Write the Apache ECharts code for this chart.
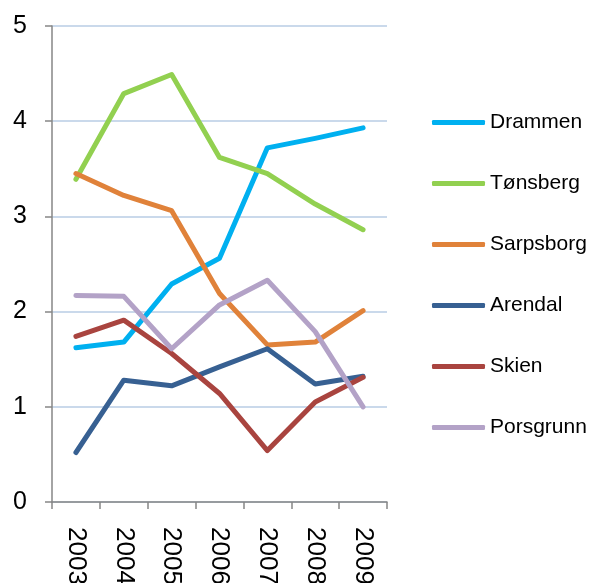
<!DOCTYPE html>
<html>
<head>
<meta charset="utf-8">
<script src="https://cdn.jsdelivr.net/npm/echarts@6/dist/echarts.min.js"></script>
<style>
  html, body { margin: 0; padding: 0; background: #fff; }
  #chart { width: 590px; height: 583px; }
</style>
</head>
<body>
<div id="chart"></div>
<script>
// data
var years = ['2003', '2004', '2005', '2006', '2007', '2008', '2009']
var drammen   = [1.62, 1.68, 2.29, 2.56, 3.72, 3.82, 3.93]
var tonsberg  = [3.39, 4.29, 4.49, 3.62, 3.45, 3.13, 2.86]
var sarpsborg = [3.45, 3.22, 3.06, 2.19, 1.65, 1.68, 2.01]
var arendal   = [0.52, 1.28, 1.22, 1.42, 1.61, 1.24, 1.32]
var skien     = [1.74, 1.91, 1.56, 1.14, 0.54, 1.05, 1.31]
var porsgrunn = [2.17, 2.16, 1.61, 2.07, 2.33, 1.79, 1.00]
var yTicks = [0, 1, 2, 3, 4, 5]

var FONT = '"Liberation Sans", Arial, sans-serif'

function line(name, data, color) {
  return {
    name: name,
    type: 'line',
    data: data,
    symbol: 'none',
    smooth: false,
    animation: false,
    lineStyle: { color: color, width: 5, cap: 'round', join: 'round' },
    itemStyle: { color: color }
  }
}

var chart = echarts.init(document.getElementById('chart'), null, { renderer: 'canvas' })
chart.setOption({
  backgroundColor: '#ffffff',
  animation: false,
  grid: { left: 52, right: 203, top: 26, bottom: 81, containLabel: false, outerBoundsMode: 'none' },
  legend: {
    orient: 'vertical',
    left: 432,
    top: 112,
    padding: 0,
    icon: 'roundRect',
    itemWidth: 53,
    itemHeight: 5,
    itemGap: 40,
    textStyle: { fontFamily: FONT, fontSize: 21, color: '#000' },
    data: ['Drammen', 'Tønsberg', 'Sarpsborg', 'Arendal', 'Skien', 'Porsgrunn']
  },
  xAxis: {
    type: 'category',
    data: years,
    boundaryGap: true,
    axisLine: { lineStyle: { color: '#868686', width: 1.5 } },
    axisTick: { show: true, length: 7, alignWithLabel: false, lineStyle: { color: '#868686', width: 1.5 } },
    axisLabel: { rotate: -90, margin: 25, fontFamily: FONT, fontSize: 26, color: '#000' },
    splitLine: { show: false }
  },
  yAxis: {
    type: 'value',
    min: yTicks[0],
    max: yTicks[yTicks.length - 1],
    interval: 1,
    axisLine: { show: true, lineStyle: { color: '#868686', width: 1.5 } },
    axisTick: { show: true, length: 7, lineStyle: { color: '#868686', width: 1.5 } },
    axisLabel: { margin: 25, fontFamily: FONT, fontSize: 25, color: '#000' },
    splitLine: { show: true, lineStyle: { color: '#B9CDE5', width: 1.5 } }
  },
  series: [
    line('Drammen', drammen, '#00B0F0'),
    line('Tønsberg', tonsberg, '#92D050'),
    line('Sarpsborg', sarpsborg, '#E0823A'),
    line('Arendal', arendal, '#376092'),
    line('Skien', skien, '#A9443F'),
    line('Porsgrunn', porsgrunn, '#B3A2C7')
  ]
})
</script>
</body>
</html>
